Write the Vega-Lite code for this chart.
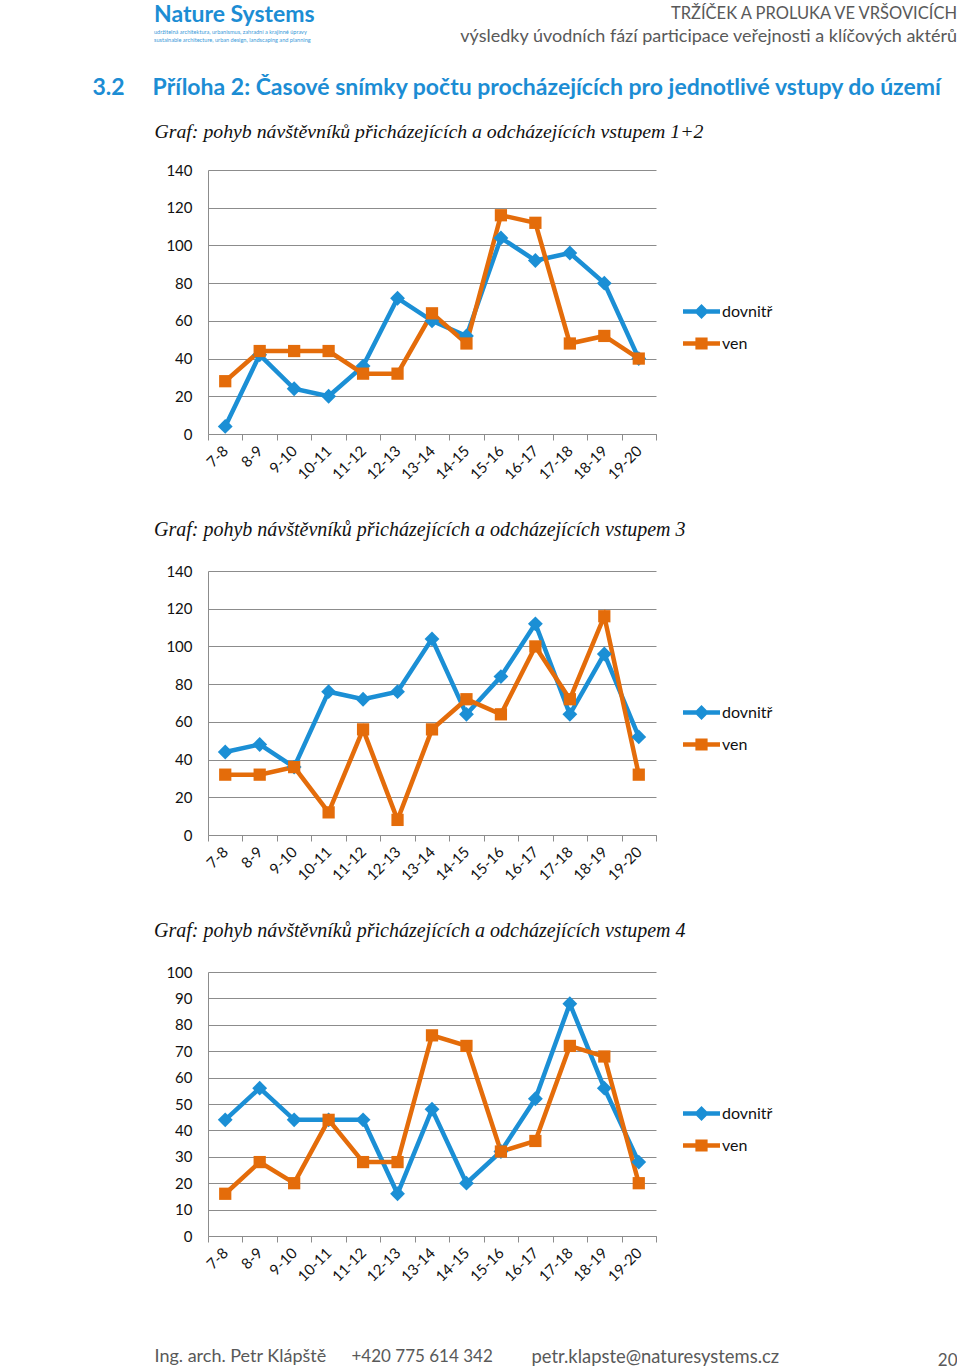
{
  "$schema": "https://vega.github.io/schema/vega-lite/v6.json",
  "background": "white",
  "padding": {"left": 92, "top": 4, "right": 0, "bottom": 6},
  "title": {
    "text": "TRŽÍČEK A PROLUKA VE VRŠOVICÍCH",
    "subtitle": "výsledky úvodních fází participace veřejnosti a klíčových aktérů",
    "anchor": "end", "frame": "bounds", "dx": 0, "offset": -42,
    "font": "Lato", "fontStyle": "normal", "fontWeight": "normal", "fontSize": 16.5, "color": "#595959",
    "subtitleFont": "Lato", "subtitleFontSize": 18, "subtitleColor": "#595959", "subtitlePadding": 6
  },
  "datasets": {
    "vstup12": [
      {"cas": "7-8", "dovnitř": 4, "ven": 28},
      {"cas": "8-9", "dovnitř": 42, "ven": 44},
      {"cas": "9-10", "dovnitř": 24, "ven": 44},
      {"cas": "10-11", "dovnitř": 20, "ven": 44},
      {"cas": "11-12", "dovnitř": 36, "ven": 32},
      {"cas": "12-13", "dovnitř": 72, "ven": 32},
      {"cas": "13-14", "dovnitř": 60, "ven": 64},
      {"cas": "14-15", "dovnitř": 52, "ven": 48},
      {"cas": "15-16", "dovnitř": 104, "ven": 116},
      {"cas": "16-17", "dovnitř": 92, "ven": 112},
      {"cas": "17-18", "dovnitř": 96, "ven": 48},
      {"cas": "18-19", "dovnitř": 80, "ven": 52},
      {"cas": "19-20", "dovnitř": 40, "ven": 40}
    ],
    "vstup3": [
      {"cas": "7-8", "dovnitř": 44, "ven": 32},
      {"cas": "8-9", "dovnitř": 48, "ven": 32},
      {"cas": "9-10", "dovnitř": 36, "ven": 36},
      {"cas": "10-11", "dovnitř": 76, "ven": 12},
      {"cas": "11-12", "dovnitř": 72, "ven": 56},
      {"cas": "12-13", "dovnitř": 76, "ven": 8},
      {"cas": "13-14", "dovnitř": 104, "ven": 56},
      {"cas": "14-15", "dovnitř": 64, "ven": 72},
      {"cas": "15-16", "dovnitř": 84, "ven": 64},
      {"cas": "16-17", "dovnitř": 112, "ven": 100},
      {"cas": "17-18", "dovnitř": 64, "ven": 72},
      {"cas": "18-19", "dovnitř": 96, "ven": 116},
      {"cas": "19-20", "dovnitř": 52, "ven": 32}
    ],
    "vstup4": [
      {"cas": "7-8", "dovnitř": 44, "ven": 16},
      {"cas": "8-9", "dovnitř": 56, "ven": 28},
      {"cas": "9-10", "dovnitř": 44, "ven": 20},
      {"cas": "10-11", "dovnitř": 44, "ven": 44},
      {"cas": "11-12", "dovnitř": 44, "ven": 28},
      {"cas": "12-13", "dovnitř": 16, "ven": 28},
      {"cas": "13-14", "dovnitř": 48, "ven": 76},
      {"cas": "14-15", "dovnitř": 20, "ven": 72},
      {"cas": "15-16", "dovnitř": 32, "ven": 32},
      {"cas": "16-17", "dovnitř": 52, "ven": 36},
      {"cas": "17-18", "dovnitř": 88, "ven": 72},
      {"cas": "18-19", "dovnitř": 56, "ven": 68},
      {"cas": "19-20", "dovnitř": 28, "ven": 20}
    ]
  },
  "config": {
    "view": {"stroke": null},
    "font": "Lato",
    "axis": {
      "labelFont": "Lato",
      "labelFontSize": 15,
      "labelColor": "#111111",
      "domainColor": "#8C8C8C",
      "tickColor": "#8C8C8C",
      "gridColor": "#8C8C8C",
      "titleFont": "Lato"
    },
    "axisY": {"grid": true, "ticks": false, "tickSize": 0, "domain": true, "labelPadding": 16},
    "axisX": {
      "grid": false,
      "ticks": true,
      "tickSize": 6,
      "tickBand": "extent",
      "labelAngle": -45,
      "labelAlign": "right",
      "labelBaseline": "middle",
      "labelPadding": 8,
      "labelOverlap": false
    },
    "title": {
      "font": "Liberation Serif",
      "fontStyle": "italic",
      "fontWeight": "normal",
      "fontSize": 20,
      "color": "#111111",
      "anchor": "start",
      "frame": "group",
      "dx": -54,
      "offset": 24
    },
    "legend": {
      "title": null,
      "orient": "none",
      "legendX": 475,
      "legendY": 123,
      "symbolSize": 1369,
      "labelFont": "Lato",
      "labelFontSize": 16,
      "labelColor": "#111111",
      "labelOffset": 2,
      "rowPadding": 5
    }
  },
  "bounds": "flush",
  "spacing": 137,
  "resolve": {"scale": {"color": "independent"}, "legend": {"color": "independent"}},
  "vconcat": [
    {
      "width": 448,
      "height": 264,
      "data": {"name": "vstup12"},
      "transform": [{"fold": ["dovnitř", "ven"], "as": ["smer", "pocet"]}],
      "title": {
        "text": "Nature Systems",
        "subtitle": ["udržitelná architektura, urbanismus, zahradní a krajinné úpravy", "sustainable architecture, urban design, landscaping and planning"],
        "font": "Lato", "fontStyle": "normal", "fontWeight": "bold", "fontSize": 23, "color": "#1C8DD4",
        "subtitleFont": "Lato", "subtitleFontSize": 5.6, "subtitleColor": "#3A9AD9", "subtitleLineHeight": 8, "subtitlePadding": 3,
        "offset": 32
      },
      "encoding": {
        "x": {
          "field": "cas", "type": "nominal", "sort": null,
          "scale": {"type": "band", "paddingInner": 0, "paddingOuter": 0},
          "axis": {
            "title": "Graf: pohyb návštěvníků přicházejících a odcházejících vstupem 1+2",
            "titleX": -54, "titleY": -297, "titleAlign": "left", "titleBaseline": "alphabetic",
            "titleFont": "Liberation Serif", "titleFontStyle": "italic", "titleFontSize": 19.8, "titleFontWeight": "normal", "titleColor": "#111111"
          }
        },
        "y": {
          "field": "pocet", "type": "quantitative",
          "scale": {"domain": [0, 140]},
          "axis": {
            "tickCount": 7,
            "title": "3.2\u00a0\u00a0\u00a0\u00a0\u00a0Příloha 2: Časové snímky počtu procházejících pro jednotlivé vstupy do území",
            "titleX": -116, "titleY": -76, "titleAngle": 0, "titleAlign": "left", "titleBaseline": "alphabetic",
            "titleFontSize": 23, "titleFontWeight": "bold", "titleColor": "#1C8DD4"
          }
        },
        "color": {
          "field": "smer", "type": "nominal",
          "scale": {"domain": ["dovnitř", "ven"], "range": ["#1B8FD5", "#E46C0A"]},
          "legend": {
            "encoding": {
              "symbols": {
                "shape": {"value": {"expr": "datum.value === 'dovnitř' ? 'M-1,-0.12H1V0.12H-1Z M0,-0.4L0.4,0L0,0.4L-0.4,0Z' : 'M-1,-0.12H1V0.12H-1Z M-0.33,-0.33H0.33V0.33H-0.33Z'"}},
                "fill": {"value": {"expr": "datum.value === 'dovnitř' ? '#1B8FD5' : '#E46C0A'"}},
                "strokeWidth": {"value": 0}
              }
            }
          }
        }
      },
      "layer": [
        {"mark": {"type": "line", "strokeWidth": 4.5}},
        {
          "mark": {"type": "point", "filled": true, "opacity": 1},
          "encoding": {
            "shape": {"field": "smer", "type": "nominal", "scale": {"domain": ["dovnitř", "ven"], "range": ["diamond", "square"]}, "legend": null},
            "size": {"field": "smer", "type": "ordinal", "scale": {"domain": ["dovnitř", "ven"], "range": [220, 150]}, "legend": null}
          }
        }
      ]
    },
    {
      "width": 448,
      "height": 264,
      "data": {"name": "vstup3"},
      "transform": [{"fold": ["dovnitř", "ven"], "as": ["smer", "pocet"]}],
      "title": "Graf: pohyb návštěvníků přicházejících a odcházejících vstupem 3",
      "encoding": {
        "x": {
          "field": "cas", "type": "nominal", "sort": null,
          "scale": {"type": "band", "paddingInner": 0, "paddingOuter": 0},
          "axis": {
            "title": "+420 775 614 342",
            "titleX": 143, "titleY": 521, "titleAlign": "left", "titleBaseline": "middle",
            "titleFontSize": 17, "titleFontWeight": "normal", "titleColor": "#595959"
          }
        },
        "y": {
          "field": "pocet", "type": "quantitative",
          "scale": {"domain": [0, 140]},
          "axis": {
            "tickCount": 7,
            "title": "petr.klapste@naturesystems.cz",
            "titleX": 323, "titleY": 785, "titleAngle": 0, "titleAlign": "left", "titleBaseline": "middle",
            "titleFontSize": 18.4, "titleFontWeight": "normal", "titleColor": "#595959"
          }
        },
        "color": {
          "field": "smer", "type": "nominal",
          "scale": {"domain": ["dovnitř", "ven"], "range": ["#1B8FD5", "#E46C0A"]},
          "legend": {
            "encoding": {
              "symbols": {
                "shape": {"value": {"expr": "datum.value === 'dovnitř' ? 'M-1,-0.12H1V0.12H-1Z M0,-0.4L0.4,0L0,0.4L-0.4,0Z' : 'M-1,-0.12H1V0.12H-1Z M-0.33,-0.33H0.33V0.33H-0.33Z'"}},
                "fill": {"value": {"expr": "datum.value === 'dovnitř' ? '#1B8FD5' : '#E46C0A'"}},
                "strokeWidth": {"value": 0}
              }
            }
          }
        }
      },
      "layer": [
        {"mark": {"type": "line", "strokeWidth": 4.5}},
        {
          "mark": {"type": "point", "filled": true, "opacity": 1},
          "encoding": {
            "shape": {"field": "smer", "type": "nominal", "scale": {"domain": ["dovnitř", "ven"], "range": ["diamond", "square"]}, "legend": null},
            "size": {"field": "smer", "type": "ordinal", "scale": {"domain": ["dovnitř", "ven"], "range": [220, 150]}, "legend": null}
          }
        }
      ]
    },
    {
      "width": 448,
      "height": 264,
      "data": {"name": "vstup4"},
      "transform": [{"fold": ["dovnitř", "ven"], "as": ["smer", "pocet"]}],
      "title": "Graf: pohyb návštěvníků přicházejících a odcházejících vstupem 4",
      "encoding": {
        "x": {
          "field": "cas", "type": "nominal", "sort": null,
          "scale": {"type": "band", "paddingInner": 0, "paddingOuter": 0},
          "axis": {
            "title": "Ing. arch. Petr Klápště",
            "titleX": -54, "titleY": 120, "titleAlign": "left", "titleBaseline": "middle",
            "titleFontSize": 18, "titleFontWeight": "normal", "titleColor": "#595959"
          }
        },
        "y": {
          "field": "pocet", "type": "quantitative",
          "scale": {"domain": [0, 100]},
          "axis": {
            "tickCount": 10,
            "title": "20",
            "titleX": 749, "titleY": 388, "titleAngle": 0, "titleAlign": "right", "titleBaseline": "middle",
            "titleFontSize": 17, "titleFontWeight": "normal", "titleColor": "#595959"
          }
        },
        "color": {
          "field": "smer", "type": "nominal",
          "scale": {"domain": ["dovnitř", "ven"], "range": ["#1B8FD5", "#E46C0A"]},
          "legend": {
            "encoding": {
              "symbols": {
                "shape": {"value": {"expr": "datum.value === 'dovnitř' ? 'M-1,-0.12H1V0.12H-1Z M0,-0.4L0.4,0L0,0.4L-0.4,0Z' : 'M-1,-0.12H1V0.12H-1Z M-0.33,-0.33H0.33V0.33H-0.33Z'"}},
                "fill": {"value": {"expr": "datum.value === 'dovnitř' ? '#1B8FD5' : '#E46C0A'"}},
                "strokeWidth": {"value": 0}
              }
            }
          }
        }
      },
      "layer": [
        {"mark": {"type": "line", "strokeWidth": 4.5}},
        {
          "mark": {"type": "point", "filled": true, "opacity": 1},
          "encoding": {
            "shape": {"field": "smer", "type": "nominal", "scale": {"domain": ["dovnitř", "ven"], "range": ["diamond", "square"]}, "legend": null},
            "size": {"field": "smer", "type": "ordinal", "scale": {"domain": ["dovnitř", "ven"], "range": [220, 150]}, "legend": null}
          }
        }
      ]
    }
  ]
}
